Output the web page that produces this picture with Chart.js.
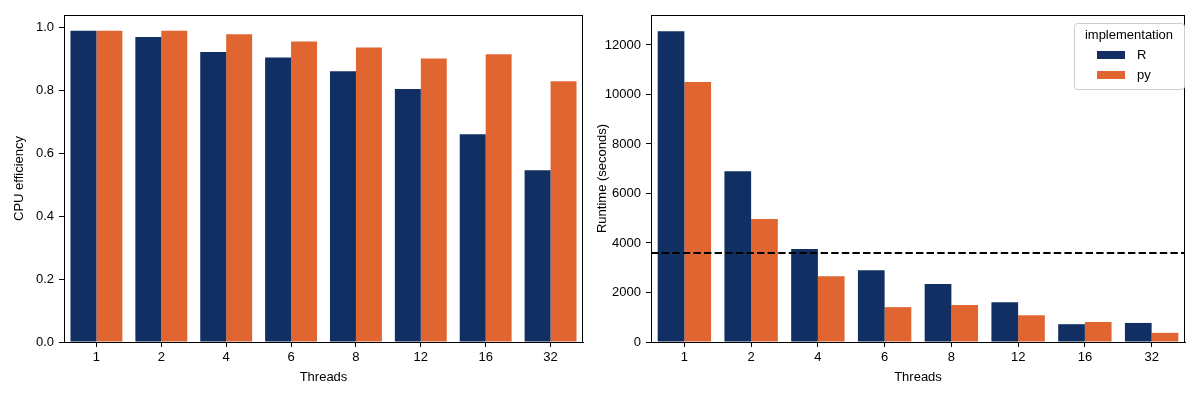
<!DOCTYPE html>
<html>
<head>
<meta charset="utf-8">
<script src="https://cdn.jsdelivr.net/npm/chart.js@4"></script>
<style>
    body { margin: 0; background: #fff; }
    .wrap { position: absolute; top: 0; height: 400px; }
    #left { left: 0; width: 590px; }
    #right { left: 590px; width: 610px; }
</style>
</head>
<body>
<div class="wrap" id="left"><canvas id="effChart"></canvas></div>
<div class="wrap" id="right"><canvas id="runChart"></canvas></div>
<script>
// Data
const threads = ['1', '2', '4', '6', '8', '12', '16', '32'];
const seriesNames = ['R', 'py'];
const effR = [0.99, 0.97, 0.922, 0.905, 0.861, 0.805, 0.661, 0.546];
const effPy = [0.99, 0.99, 0.979, 0.956, 0.937, 0.902, 0.915, 0.829];
const runR = [12560, 6900, 3760, 2900, 2340, 1610, 720, 770];
const runPy = [10500, 4970, 2660, 1410, 1490, 1080, 810, 370];
const runtimeLimit = 3600;
const effTicks = [0, 0.2, 0.4, 0.6, 0.8, 1.0];
const runTicks = [0, 2000, 4000, 6000, 8000, 10000, 12000];

const navy = '#112f63';
const orange = '#e16531';

Chart.defaults.font.family = '"Liberation Sans", Arial, sans-serif';
Chart.defaults.font.size = 13;
Chart.defaults.color = '#000';
Chart.defaults.animation = false;

// frame round the plot area (top and right spines)
const framePlugin = {
    id: 'frame',
    afterDraw(chart) {
        const a = chart.chartArea, ctx = chart.ctx;
        ctx.save();
        ctx.strokeStyle = '#000';
        ctx.lineWidth = 1;
        ctx.strokeRect(Math.round(a.left) + 0.5, Math.round(a.top) + 0.5,
            Math.round(a.right - a.left) - 1, Math.round(a.bottom - a.top));
        ctx.restore();
    }
};

// dashed one-hour line
const limitPlugin = {
    id: 'limitLine',
    afterDatasetsDraw(chart) {
        const a = chart.chartArea, ctx = chart.ctx;
        const y = chart.scales.y.getPixelForValue(runtimeLimit);
        ctx.save();
        ctx.strokeStyle = '#000';
        ctx.lineWidth = 2;
        ctx.setLineDash([7.4, 3.2]);
        ctx.beginPath();
        ctx.moveTo(a.left, y);
        ctx.lineTo(a.right, y);
        ctx.stroke();
        ctx.restore();
    }
};

// matplotlib style legend inside the axes, upper right
const boxLegend = {
    id: 'boxLegend',
    afterDraw(chart) {
        const a = chart.chartArea, ctx = chart.ctx;
        const w = 110, h = 66;
        const x = a.right - 1 - w, y = a.top + 8;
        ctx.save();
        ctx.fillStyle = 'rgba(255,255,255,0.8)';
        ctx.strokeStyle = '#cccccc';
        ctx.lineWidth = 1;
        ctx.beginPath();
        ctx.roundRect(x + 0.5, y + 0.5, w, h, 3);
        ctx.fill();
        ctx.stroke();
        ctx.fillStyle = '#000';
        ctx.font = '13px "Liberation Sans", Arial, sans-serif';
        ctx.textBaseline = 'middle';
        ctx.textAlign = 'center';
        ctx.fillText('implementation', x + w / 2, y + 12);
        ctx.textAlign = 'left';
        chart.data.datasets.forEach((ds, i) => {
            const cy = y + 32 + i * 20;
            ctx.fillStyle = ds.backgroundColor;
            ctx.fillRect(x + 23, cy - 4, 28, 8);
            ctx.fillStyle = '#000';
            ctx.fillText(ds.label, x + 63, cy);
        });
        ctx.restore();
    }
};

function axes(yTitle, yMax, yTickVals, yFmt, yWidth, yTitlePad) {
    return {
        x: {
            offset: true,
            grid: { display: true, drawOnChartArea: false, drawTicks: true, tickLength: 5, color: '#000', offset: false },
            border: { display: true, color: '#000', width: 1 },
            ticks: { padding: 3, maxRotation: 0 },
            title: { display: true, text: 'Threads', padding: { top: 2, bottom: 15 } },
            afterFit(scale) { scale.height = 58; }
        },
        y: {
            min: 0,
            max: yMax,
            afterBuildTicks(scale) { scale.ticks = yTickVals.map(v => ({ value: v })); },
            grid: { display: true, drawOnChartArea: false, drawTicks: true, tickLength: 5, color: '#000' },
            border: { display: true, color: '#000', width: 1 },
            ticks: { padding: 5, callback: yFmt },
            title: { display: true, text: yTitle, padding: { top: yTitlePad, bottom: 0 } },
            afterFit(scale) { scale.width = yWidth; }
        }
    };
}

function makeChart(id, a, b, yTitle, yMax, yTickVals, yFmt, yWidth, yTitlePad, padRight, plugins) {
    return new Chart(document.getElementById(id).getContext('2d'), {
        type: 'bar',
        data: {
            labels: threads,
            datasets: [
                { label: seriesNames[0], data: a, backgroundColor: navy },
                { label: seriesNames[1], data: b, backgroundColor: orange }
            ]
        },
        options: {
            responsive: true,
            maintainAspectRatio: false,
            categoryPercentage: 0.8,
            barPercentage: 1.0,
            layout: { padding: { top: 15, right: padRight, left: 0, bottom: 0 } },
            plugins: { legend: { display: false }, tooltip: { enabled: false } },
            scales: axes(yTitle, yMax, yTickVals, yFmt, yWidth, yTitlePad)
        },
        plugins: plugins
    });
}

document.addEventListener('DOMContentLoaded', function() {
    makeChart('effChart', effR, effPy, 'CPU efficiency', 1.04, effTicks,
        v => v.toFixed(1), 64, 12, 7, [framePlugin]);
    makeChart('runChart', runR, runPy, 'Runtime (seconds)', 13212, runTicks,
        v => String(v), 61, 5, 15, [limitPlugin, framePlugin, boxLegend]);
});
</script>
</body>
</html>
